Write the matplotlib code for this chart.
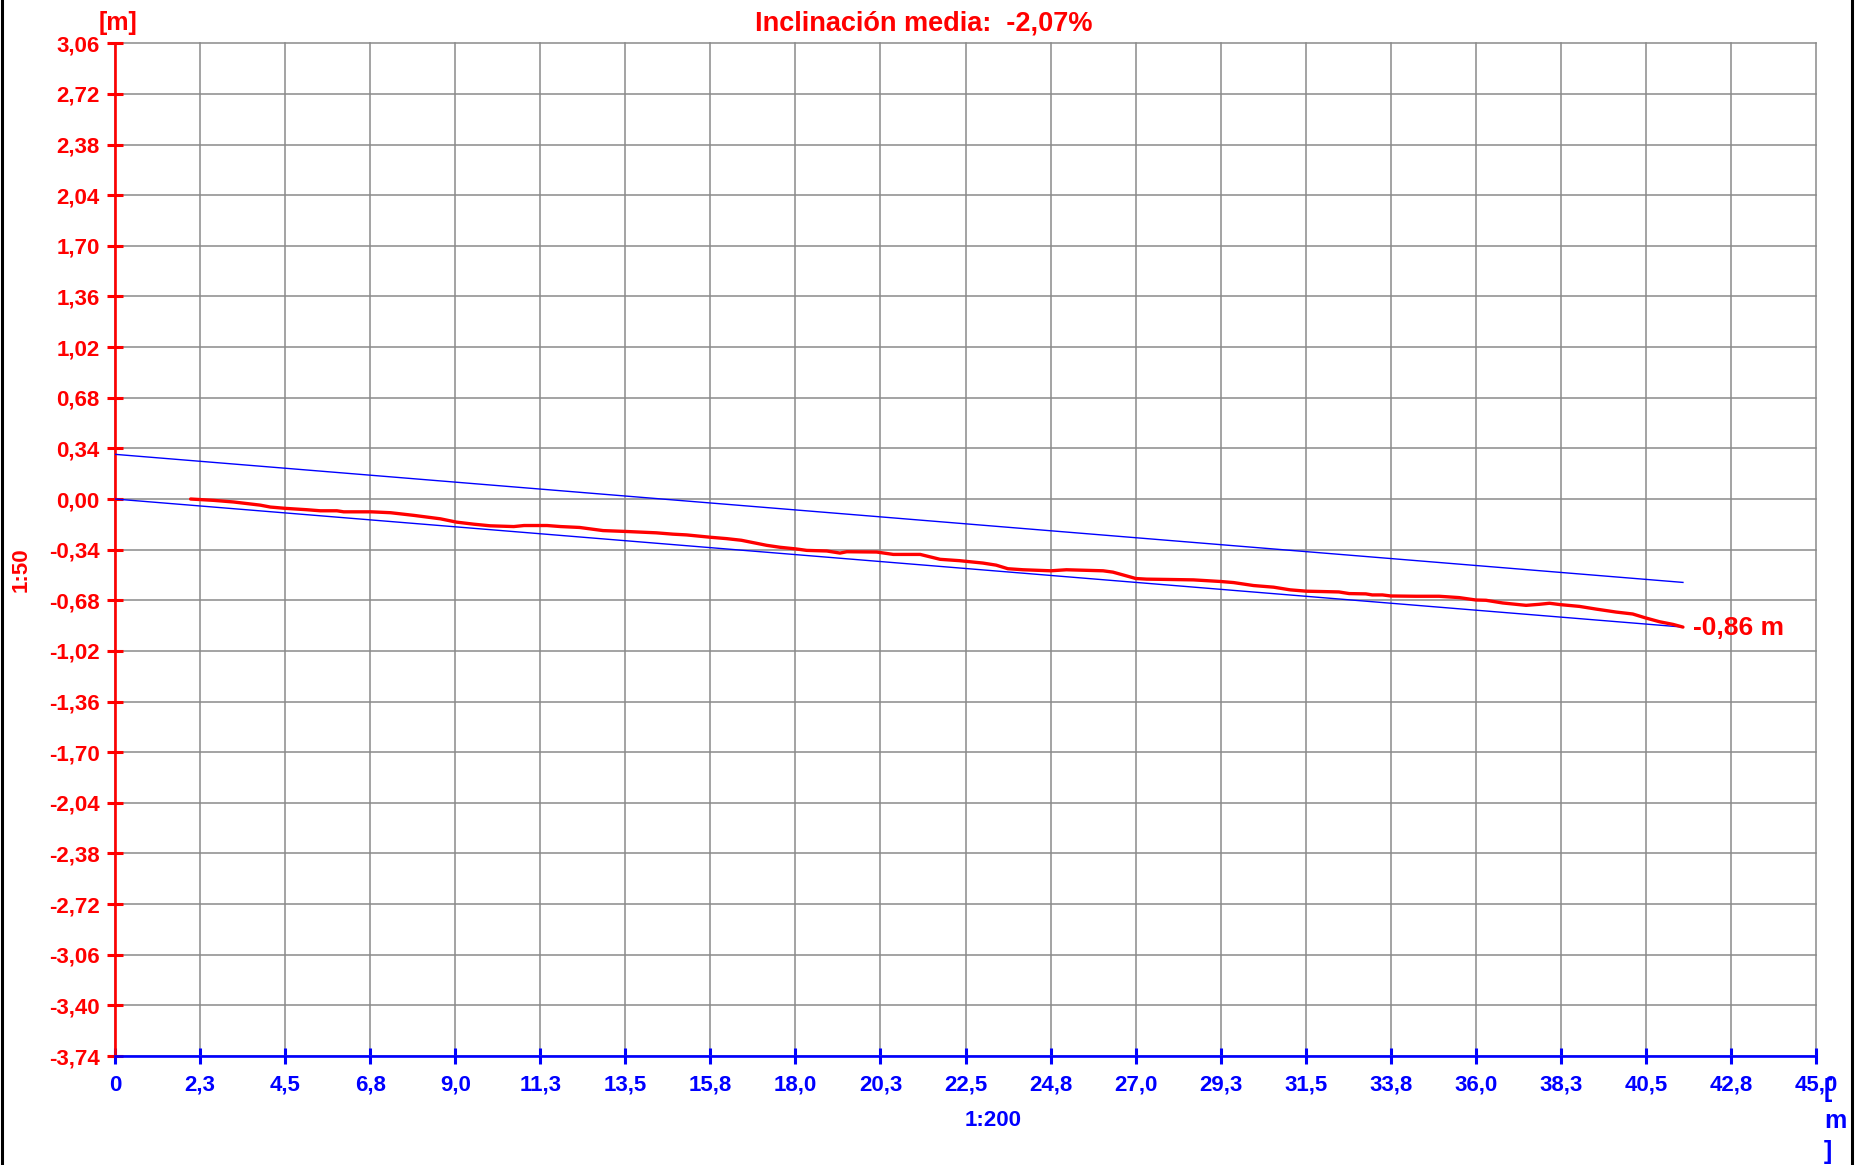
import matplotlib
matplotlib.use("Agg")
import matplotlib.pyplot as plt
from matplotlib.lines import Line2D

plt.rcParams['font.family'] = ['Liberation Sans', 'DejaVu Sans']
plt.rcParams['font.weight'] = 'bold'

# Axis ticks and labels
x_ticks = [0, 2.25, 4.5, 6.75, 9.0, 11.25, 13.5, 15.75, 18.0, 20.25, 22.5,
           24.75, 27.0, 29.25, 31.5, 33.75, 36.0, 38.25, 40.5, 42.75, 45.0]
x_labels = ["0", "2,3", "4,5", "6,8", "9,0", "11,3", "13,5", "15,8", "18,0", "20,3", "22,5",
            "24,8", "27,0", "29,3", "31,5", "33,8", "36,0", "38,3", "40,5", "42,8", "45,0"]
y_ticks = [3.06, 2.72, 2.38, 2.04, 1.70, 1.36, 1.02, 0.68, 0.34, 0.00, -0.34,
           -0.68, -1.02, -1.36, -1.70, -2.04, -2.38, -2.72, -3.06, -3.40, -3.74]
y_labels = ["3,06", "2,72", "2,38", "2,04", "1,70", "1,36", "1,02", "0,68", "0,34", "0,00", "-0,34",
            "-0,68", "-1,02", "-1,36", "-1,70", "-2,04", "-2,38", "-2,72", "-3,06", "-3,40", "-3,74"]

# Measured profile: distance [m] and height [m]
profile_x = [2.0, 2.61, 3.14, 3.84, 4.11, 4.52, 5.08, 5.43, 5.87, 6.05, 6.78, 7.29, 7.91, 8.61,
             9.03, 9.49, 9.93, 10.55, 10.82, 11.43, 11.79, 12.29, 12.91, 13.53, 14.32, 14.76,
             15.12, 15.76, 16.18, 16.57, 17.24, 17.59, 18.01, 18.30, 18.83, 19.18, 19.36, 20.15,
             20.59, 21.30, 21.83, 22.34, 22.96, 23.31, 23.62, 24.02, 24.76, 25.17, 26.14, 26.40,
             27.01, 27.29, 27.82, 28.53, 29.26, 29.59, 30.12, 30.65, 31.09, 31.52, 31.88, 32.38,
             32.65, 33.09, 33.26, 33.53, 33.75, 34.41, 35.03, 35.56, 36.00, 36.27, 36.71, 37.33,
             37.68, 37.95, 38.23, 38.74, 39.18, 39.71, 40.15, 40.50, 40.86, 41.22, 41.48]
profile_y = [0.000, -0.009, -0.020, -0.041, -0.054, -0.063, -0.072, -0.079, -0.079, -0.086,
             -0.086, -0.092, -0.110, -0.133, -0.155, -0.169, -0.180, -0.185, -0.178, -0.178,
             -0.185, -0.191, -0.212, -0.218, -0.227, -0.236, -0.241, -0.257, -0.266, -0.277,
             -0.311, -0.324, -0.335, -0.345, -0.349, -0.363, -0.354, -0.356, -0.372, -0.372,
             -0.405, -0.414, -0.430, -0.444, -0.468, -0.475, -0.482, -0.475, -0.482, -0.491,
             -0.534, -0.538, -0.540, -0.543, -0.554, -0.561, -0.581, -0.592, -0.610, -0.619,
             -0.621, -0.624, -0.635, -0.637, -0.644, -0.644, -0.651, -0.653, -0.653, -0.662,
             -0.678, -0.680, -0.698, -0.714, -0.707, -0.700, -0.709, -0.721, -0.739, -0.759,
             -0.772, -0.799, -0.824, -0.842, -0.860]

# Mean-slope reference lines (start/end x, start/end height)
ref_x = [0.0, 41.48]
ref_low = [0.0, -0.86]
ref_high = [0.30, -0.56]

title_text = "Inclinación media:  -2,07%"
end_label = "-0,86 m"

RED = '#ff0000'
BLUE = '#0000ff'
W, H = 1862, 1165

fig = plt.figure(figsize=(W / 100, H / 100), dpi=100)
ax = fig.add_axes([115 / W, 1 - 1056 / H, (1816 - 115) / W, (1056 - 43.3) / H])

ax.set_xlim(0, 45)
ax.set_ylim(-3.74, 3.06)

ax.set_xticks(x_ticks)
ax.set_xticklabels(x_labels)
ax.set_yticks(y_ticks)
ax.set_yticklabels(y_labels)

ax.grid(True, color='#8a8a8a', linewidth=1.1)
for gl in ax.get_xgridlines() + ax.get_ygridlines():
    gl.set_clip_on(False)
ax.set_axisbelow(True)

for s in ('top', 'right'):
    ax.spines[s].set_visible(False)
ax.spines['left'].set_color(RED)
ax.spines['left'].set_linewidth(1.9)
ax.spines['bottom'].set_color(BLUE)
ax.spines['bottom'].set_linewidth(1.9)
ax.spines['left'].set_zorder(3)
ax.spines['bottom'].set_zorder(3)

ax.tick_params(axis='x', direction='inout', length=12, width=2.2, colors=BLUE,
               labelsize=16, pad=7.5)
ax.tick_params(axis='y', direction='inout', length=12, width=2.2, colors=RED,
               labelsize=16, pad=5)
for lab in ax.get_xticklabels() + ax.get_yticklabels():
    lab.set_fontweight('bold')

ax.plot(ref_x, ref_high, color=BLUE, linewidth=1.0, zorder=4)
ax.plot(ref_x, ref_low, color=BLUE, linewidth=1.0, zorder=4)
ax.plot(profile_x, profile_y, color=RED, linewidth=2.4, zorder=5,
        solid_joinstyle='round', solid_capstyle='round')

ax.annotate(end_label, xy=(profile_x[-1], profile_y[-1]), xytext=(7, -1),
            textcoords='offset points', ha='left', va='center',
            color=RED, fontsize=19, fontweight='bold', annotation_clip=False)

fig.text(924 / W, 1 - 23.5 / H, title_text, ha='center', va='center',
         color=RED, fontsize=19.5, fontweight='bold')
fig.text(118 / W, 1 - 23 / H, "[m]", ha='center', va='center',
         color=RED, fontsize=18, fontweight='bold')
fig.text(21 / W, 1 - 570 / H, "1:50", ha='center', va='center', rotation=90,
         color=RED, fontsize=16, fontweight='bold')
fig.text(993 / W, 1 - 1121 / H, "1:200", ha='center', va='center',
         color=BLUE, fontsize=16, fontweight='bold')
fig.text(1824 / W, 1 - 1078 / H, "[\nm\n]", ha='left', va='top',
         color=BLUE, fontsize=18, fontweight='bold', linespacing=1.38)

# Side frame lines
fig.add_artist(Line2D([1.5 / W, 1.5 / W], [0, 1], color='black', linewidth=2.2))
fig.add_artist(Line2D([1852 / W, 1852 / W], [0, 1], color='black', linewidth=2.2))

fig.savefig('out.png', dpi=100, facecolor='white')
